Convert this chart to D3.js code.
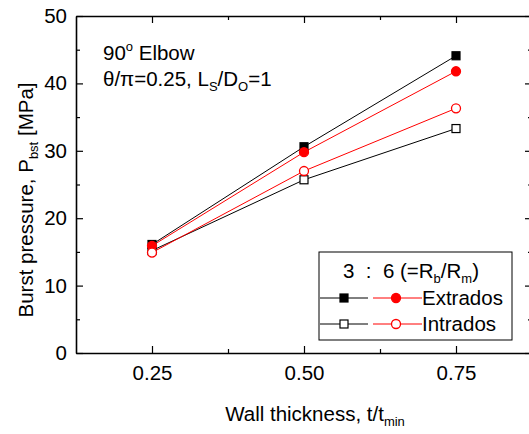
<!DOCTYPE html>
<html>
<head>
<meta charset="utf-8">
<script src="https://cdn.jsdelivr.net/npm/d3@7"></script>
<style>
  body { margin: 0; background: #fff; }
  text { font-family: "Liberation Sans", Arial, sans-serif; fill: #000; }
</style>
</head>
<body>
<div id="chart"></div>
<script>
// data
var thickness = [0.25, 0.50, 0.75];
var extradosSquare = [16.1, 30.6, 44.1];   // black filled
var extradosCircle = [15.9, 29.8, 41.8];   // red filled
var intradosCircle = [14.9, 27.0, 36.3];   // red open
var intradosSquare = [15.2, 25.7, 33.3];   // black open
var xTicks = [0.25, 0.50, 0.75];
var yTicks = [0, 10, 20, 30, 40, 50];

var w = 529, h = 434;
var fs = 20.5, sub = 13;
var margin = { left: 76, top: 16, right: 532, bottom: 353 };

var svg = d3.select('#chart').append('svg')
  .attr('width', w)
  .attr('height', h);

var x = d3.scaleLinear().domain([0.125, 0.875]).range([margin.left, margin.right]);
var y = d3.scaleLinear().domain([0, 50]).range([margin.bottom, margin.top]);

// axes, ticks pointing inward
function addAxis(axis, tx, ty) {
  var g = svg.append('g')
    .attr('transform', 'translate(' + tx + ',' + ty + ')')
    .call(axis);
  g.select('.domain').attr('stroke', '#000').attr('stroke-width', 1.6);
  g.selectAll('.tick line').attr('stroke', '#000').attr('stroke-width', 1.2);
  g.selectAll('.tick text').attr('font-size', fs).attr('font-family', '"Liberation Sans", Arial, sans-serif');
  return g;
}

var xMinor = [0.375, 0.625];
var yMinor = [5, 15, 25, 35, 45];

// bottom
addAxis(d3.axisBottom(x).tickValues(xTicks).tickFormat(d3.format('.2f')).tickSize(-7).tickPadding(12).tickSizeOuter(0), 0, margin.bottom);
addAxis(d3.axisBottom(x).tickValues(xMinor).tickFormat('').tickSize(-4).tickSizeOuter(0), 0, margin.bottom).select('.domain').remove();
// top
addAxis(d3.axisTop(x).tickValues(xTicks).tickFormat('').tickSize(-7).tickSizeOuter(0), 0, margin.top);
addAxis(d3.axisTop(x).tickValues(xMinor).tickFormat('').tickSize(-4).tickSizeOuter(0), 0, margin.top).select('.domain').remove();
// left
addAxis(d3.axisLeft(y).tickValues(yTicks).tickSize(-7).tickPadding(9).tickSizeOuter(0), margin.left, 0);
addAxis(d3.axisLeft(y).tickValues(yMinor).tickFormat('').tickSize(-4).tickSizeOuter(0), margin.left, 0).select('.domain').remove();
// right
addAxis(d3.axisRight(y).tickValues(yTicks).tickFormat('').tickSize(-7).tickSizeOuter(0), margin.right, 0);
addAxis(d3.axisRight(y).tickValues(yMinor).tickFormat('').tickSize(-4).tickSizeOuter(0), margin.right, 0).select('.domain').remove();

// series (drawing order = marker stacking order)
var series = [
  { values: extradosSquare, color: '#000', shape: 'square', filled: true },
  { values: intradosSquare, color: '#000', shape: 'square', filled: false },
  { values: extradosCircle, color: '#ff0000', shape: 'circle', filled: true },
  { values: intradosCircle, color: '#ff0000', shape: 'circle', filled: false }
];

var line = d3.line()
  .x(function(d) { return x(d[0]); })
  .y(function(d) { return y(d[1]); });

function drawMarker(g, shape, color, filled, cx, cy) {
  if (shape === 'square') {
    g.append('rect')
      .attr('x', cx - 4).attr('y', cy - 4)
      .attr('width', 8).attr('height', 8)
      .attr('fill', filled ? color : '#fff')
      .attr('stroke', color).attr('stroke-width', 1.2);
  } else {
    g.append('circle')
      .attr('cx', cx).attr('cy', cy).attr('r', 4.5)
      .attr('fill', filled ? color : '#fff')
      .attr('stroke', color).attr('stroke-width', 1.3);
  }
}

series.forEach(function(s) {
  var pts = thickness.map(function(t, i) { return [t, s.values[i]]; });
  svg.append('path')
    .datum(pts)
    .attr('d', line)
    .attr('fill', 'none')
    .attr('stroke', s.color)
    .attr('stroke-width', 1);
});
series.forEach(function(s) {
  var g = svg.append('g');
  thickness.forEach(function(t, i) {
    drawMarker(g, s.shape, s.color, s.filled, x(t), y(s.values[i]));
  });
});

// annotation
var ann = svg.append('text').attr('x', 103).attr('y', 60).attr('font-size', fs);
ann.append('tspan').text('90');
ann.append('tspan').attr('font-size', sub).attr('dy', -9).text('o');
ann.append('tspan').attr('dy', 9).text(' Elbow');

var ann2 = svg.append('text').attr('x', 103).attr('y', 86).attr('font-size', fs);
ann2.append('tspan').text('θ/π=0.25, L');
ann2.append('tspan').attr('font-size', sub).attr('dy', 5).text('S');
ann2.append('tspan').attr('dy', -5).text('/D');
ann2.append('tspan').attr('font-size', sub).attr('dy', 5).text('O');
ann2.append('tspan').attr('dy', -5).text('=1');

// legend
var lg = svg.append('g');
lg.append('rect')
  .attr('x', 319).attr('y', 252).attr('width', 193).attr('height', 88)
  .attr('fill', '#fff').attr('stroke', '#000').attr('stroke-width', 1);

var lt = lg.append('text').attr('x', 343).attr('y', 278).attr('font-size', fs).attr('xml:space', 'preserve');
lt.append('tspan').text('3  :  6 (=R');
lt.append('tspan').attr('font-size', sub).attr('dy', 5).text('b');
lt.append('tspan').attr('dy', -5).text('/R');
lt.append('tspan').attr('font-size', sub).attr('dy', 5).text('m');
lt.append('tspan').attr('dy', -5).text(')');

var legendRows = [
  { label: 'Extrados', filled: true, y: 298 },
  { label: 'Intrados', filled: false, y: 324 }
];
legendRows.forEach(function(r) {
  lg.append('line').attr('x1', 320).attr('x2', 368).attr('y1', r.y).attr('y2', r.y)
    .attr('stroke', '#000').attr('stroke-width', 1);
  drawMarker(lg, 'square', '#000', r.filled, 344, r.y);
  lg.append('line').attr('x1', 373).attr('x2', 422).attr('y1', r.y).attr('y2', r.y)
    .attr('stroke', '#ff0000').attr('stroke-width', 1);
  drawMarker(lg, 'circle', '#ff0000', r.filled, 396, r.y);
  lg.append('text').attr('x', 422).attr('y', r.y + 7).attr('font-size', fs).text(r.label);
});

// axis titles
var xt = svg.append('text').attr('x', 315).attr('y', 421).attr('font-size', fs).attr('text-anchor', 'middle');
xt.append('tspan').text('Wall thickness, t/t');
xt.append('tspan').attr('font-size', sub).attr('dy', 5).text('min');

var yt = svg.append('text')
  .attr('transform', 'translate(33,200) rotate(-90)')
  .attr('font-size', fs).attr('text-anchor', 'middle');
yt.append('tspan').text('Burst pressure, P');
yt.append('tspan').attr('font-size', sub).attr('dy', 5).text('bst');
yt.append('tspan').attr('dy', -5).text(' [MPa]');
</script>
</body>
</html>
